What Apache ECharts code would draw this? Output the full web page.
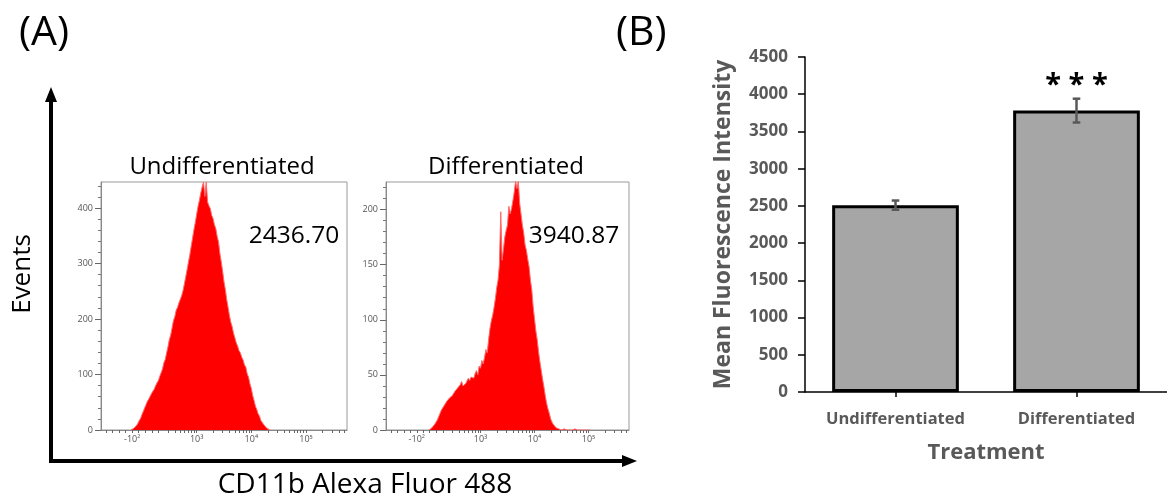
<!DOCTYPE html>
<html><head><meta charset="utf-8">
<script src="https://cdn.jsdelivr.net/npm/echarts@6/dist/echarts.min.js"></script>
<style>html,body{margin:0;padding:0;background:#fff}#c{width:1167px;height:501px}</style>
</head><body><div id="c"></div>
<script>
// ---------- Panel A : flow cytometry histograms ----------
// bins on a display scale in decades (3 = 10^3, 4 = 10^4 ...)
const undiffBinStart = 1.80;
const diffBinStart = 2.05;
const binStep = 0.025;
const undiffCounts = [0,1,3,5,8,12,17,21,28,34,40,46,52,56,59,66,69,74,80,85,89,97,103,110,121,127,139,150,163,171,184,197,204,216,221,229,231,242,251,263,276,289,303,316,331,346,361,374,389,403,414,427,438,447,421,447,411,404,399,387,381,370,363,349,339,318,303,286,267,253,235,221,206,194,186,174,166,157,151,143,139,131,126,117,113,101,95,83,75,62,53,43,37,29,25,17,14,10,7,4,2,1,0];
const diffCounts = [0,1,2,3,5,7,9,12,15,18,19,22,23,26,25,29,28,31,32,35,34,38,37,41,44,40,39,42,43,47,45,48,49,47,51,54,50,58,56,63,60,66,73,70,82,92,99,104,111,119,129,136,150,198,154,164,175,181,186,203,196,201,208,216,226,219,226,206,196,186,179,168,163,155,148,136,127,112,101,90,82,71,62,54,46,39,31,24,19,15,10,7,5,4,2,2,1,1,0,0,1,0,0,1,0,0,0,0,1,0,0,1,0,0,0,1,0,0,0,0];
const histTitles = ['Undifferentiated', 'Differentiated'];
const histMFI = ['2436.70', '3940.87'];
const histXTickPos = [1.82, 3, 4, 5];
const histXTickLabels = ['-10²', '10³', '10⁴', '10⁵'];
const undiffYTicks = [0, 100, 200, 300, 400];
const diffYTicks = [0, 50, 100, 150, 200];
const undiffYMax = 447;
const diffYMax = 225;
const xAxisTitle = 'CD11b Alexa Fluor 488';
const yAxisTitle = 'Events';

// ---------- Panel B : bar chart ----------
const categories = ['Undifferentiated', 'Differentiated'];
const meanMFI = [2510, 3780];
const errMFI = [62, 160];
const sigLabels = ['', '* * *'];
const barYMax = 4500;
const barYInterval = 500;

function binPairs(start, counts) {
  return counts.map((c, i) => [+(start + i * binStep).toFixed(3), c]);
}
// minor tick positions for the log display axis
const histMinorX = [1.34, 1.46, 1.58, 1.70, 1.94, 2.06, 2.18];
for (let n = 2; n <= 5; n++) for (let k = 2; k <= 9; k++) {
  const v = n + Math.log10(k);
  if (v > 2.25 && v < 5.75) histMinorX.push(+v.toFixed(3));
}
function minorY(max, step) { const a = []; for (let v = 0; v <= max; v += step) a.push(v); return a; }

const FONT = 'Open Sans';
const histGrids = [
  { left: 101, top: 182, width: 246, height: 248 },
  { left: 386, top: 182, width: 243, height: 248 }
];

function histX(gi) {
  return {
    type: 'value', gridIndex: gi, min: 1.25, max: 5.75,
    axisLine: { show: true, lineStyle: { color: '#888', width: 1 } },
    splitLine: { show: false },
    axisTick: { show: true, customValues: histMinorX.concat(histXTickPos), length: 3, inside: false, lineStyle: { color: '#666' } },
    axisLabel: {
      customValues: histXTickPos, fontSize: 9, color: '#555', fontFamily: FONT, margin: 5,
      formatter: v => histXTickLabels[histXTickPos.indexOf(+v)] || ''
    }
  };
}
function histY(gi, max, ticks, minorStep) {
  return [{
    type: 'value', gridIndex: gi, min: 0, max: max, position: 'left',
    axisLine: { show: true, lineStyle: { color: '#888', width: 1 } },
    splitLine: { show: false },
    axisTick: { show: true, customValues: minorY(max, minorStep), length: 3, lineStyle: { color: '#777' } },
    axisLabel: { customValues: ticks, fontSize: 9, color: '#555', fontFamily: FONT, margin: 8 }
  }, {
    type: 'value', gridIndex: gi, min: 0, max: max, position: 'left', offset: 0,
    axisLine: { show: false }, splitLine: { show: false },
    axisTick: { show: true, customValues: ticks, length: 6, lineStyle: { color: '#666' } },
    axisLabel: { show: false }
  }];
}

const chart = echarts.init(document.getElementById('c'), null, { renderer: 'canvas' });

const option = {
  backgroundColor: '#fff',
  animation: false,
  title: [
    { text: '(A)', left: 14, top: 8, textStyle: { fontFamily: FONT, fontWeight: 'normal', fontSize: 41, color: '#000' } },
    { text: '(B)', left: 611, top: 8, textStyle: { fontFamily: FONT, fontWeight: 'normal', fontSize: 41, color: '#000' } }
  ],
  grid: [
    Object.assign({ show: true, borderColor: '#999', borderWidth: 1, backgroundColor: 'transparent' }, histGrids[0]),
    Object.assign({ show: true, borderColor: '#999', borderWidth: 1, backgroundColor: 'transparent' }, histGrids[1]),
    { left: 805, top: 57, width: 362, height: 335 }
  ],
  xAxis: [
    histX(0), histX(1),
    {
      type: 'category', gridIndex: 2, data: categories,
      axisLine: { show: true, lineStyle: { color: '#000', width: 1.5 } },
      axisTick: { show: true, alignWithLabel: true, length: 5, lineStyle: { color: '#000', width: 1.5 } },
      axisLabel: { fontFamily: FONT, fontWeight: 'bold', fontSize: 16.5, color: '#595959', margin: 19 },
      name: 'Treatment', nameLocation: 'middle', nameGap: 50,
      nameTextStyle: { fontFamily: FONT, fontWeight: 'bold', fontSize: 22, color: '#595959' }
    }
  ],
  yAxis: [
    ...histY(0, undiffYMax, undiffYTicks, 20),
    ...histY(1, diffYMax, diffYTicks, 10),
    {
      type: 'value', gridIndex: 2, min: 0, max: barYMax, interval: barYInterval,
      axisLine: { show: true, lineStyle: { color: '#000', width: 1.5 } },
      axisTick: { show: true, length: 7, lineStyle: { color: '#000', width: 1.5 } },
      splitLine: { show: false },
      axisLabel: { fontFamily: FONT, fontWeight: 'bold', fontSize: 17, color: '#595959', margin: 17, formatter: v => String(v) },
      name: 'Mean Fluorescence Intensity', nameLocation: 'middle', nameGap: 70, nameRotate: 90,
      nameTextStyle: { fontFamily: FONT, fontWeight: 'bold', fontSize: 23, color: '#595959' }
    }
  ],
  series: [
    {
      type: 'line', xAxisIndex: 0, yAxisIndex: 0, data: binPairs(undiffBinStart, undiffCounts),
      symbol: 'none', smooth: false, clip: true,
      lineStyle: { color: '#ff6a6a', width: 1 }, areaStyle: { color: '#ff0000', opacity: 1 }
    },
    {
      type: 'line', xAxisIndex: 1, yAxisIndex: 2, data: binPairs(diffBinStart, diffCounts),
      symbol: 'none', smooth: false, clip: true,
      lineStyle: { color: '#ff6a6a', width: 1 }, areaStyle: { color: '#ff0000', opacity: 1 }
    },
    {
      type: 'bar', xAxisIndex: 2, yAxisIndex: 4, data: meanMFI, barWidth: '70%',
      itemStyle: { color: '#a6a6a6', borderColor: '#000', borderWidth: 3 }
    },
    {
      type: 'custom', xAxisIndex: 2, yAxisIndex: 4,
      data: meanMFI.map((m, i) => [i, m - errMFI[i], m + errMFI[i]]),
      z: 5,
      renderItem: function (params, api) {
        const x = api.coord([api.value(0), 0])[0];
        const lo = api.coord([api.value(0), api.value(1)])[1];
        const hi = api.coord([api.value(0), api.value(2)])[1];
        const w = 3.8;
        const st = { stroke: '#595959', lineWidth: 2.5 };
        const children = [
          { type: 'line', shape: { x1: x, y1: lo, x2: x, y2: hi }, style: st },
          { type: 'line', shape: { x1: x - w, y1: lo, x2: x + w, y2: lo }, style: st },
          { type: 'line', shape: { x1: x - w, y1: hi, x2: x + w, y2: hi }, style: st }
        ];
        const s = sigLabels[params.dataIndex];
        if (s) children.push({ type: 'text', x: x, y: hi - 13, style: { text: s, fill: '#000', font: 'bold 29px "' + FONT + '"', align: 'center', verticalAlign: 'middle' } });
        return { type: 'group', children: children };
      }
    }
  ],
  graphic: [
    // big axis arrows of panel A
    { type: 'line', shape: { x1: 51, y1: 461, x2: 51, y2: 100 }, style: { stroke: '#000', lineWidth: 4 } },
    { type: 'polygon', shape: { points: [[51, 87], [45, 102], [57, 102]] }, style: { fill: '#000' } },
    { type: 'line', shape: { x1: 49, y1: 461, x2: 624, y2: 461 }, style: { stroke: '#000', lineWidth: 4 } },
    { type: 'polygon', shape: { points: [[637, 461], [622, 455], [622, 467]] }, style: { fill: '#000' } },
    { type: 'text', x: 23, y: 274, rotation: Math.PI / 2, style: { text: yAxisTitle, font: '26px "' + FONT + '"', fill: '#000', align: 'center', verticalAlign: 'middle' } },
    { type: 'text', x: 365, y: 485, style: { text: xAxisTitle, font: '28px "' + FONT + '"', fill: '#000', align: 'center', verticalAlign: 'middle' } },
    { type: 'text', x: 222, y: 167, style: { text: histTitles[0], font: '24px "' + FONT + '"', fill: '#000', align: 'center', verticalAlign: 'middle' } },
    { type: 'text', x: 506, y: 167, style: { text: histTitles[1], font: '24px "' + FONT + '"', fill: '#000', align: 'center', verticalAlign: 'middle' } },
    { type: 'text', x: 294, y: 236, style: { text: histMFI[0], font: '24.5px "' + FONT + '"', fill: '#000', align: 'center', verticalAlign: 'middle' } },
    { type: 'text', x: 574, y: 236, style: { text: histMFI[1], font: '24.5px "' + FONT + '"', fill: '#000', align: 'center', verticalAlign: 'middle' } }
  ]
};
chart.setOption(option);
</script>
</body></html>
